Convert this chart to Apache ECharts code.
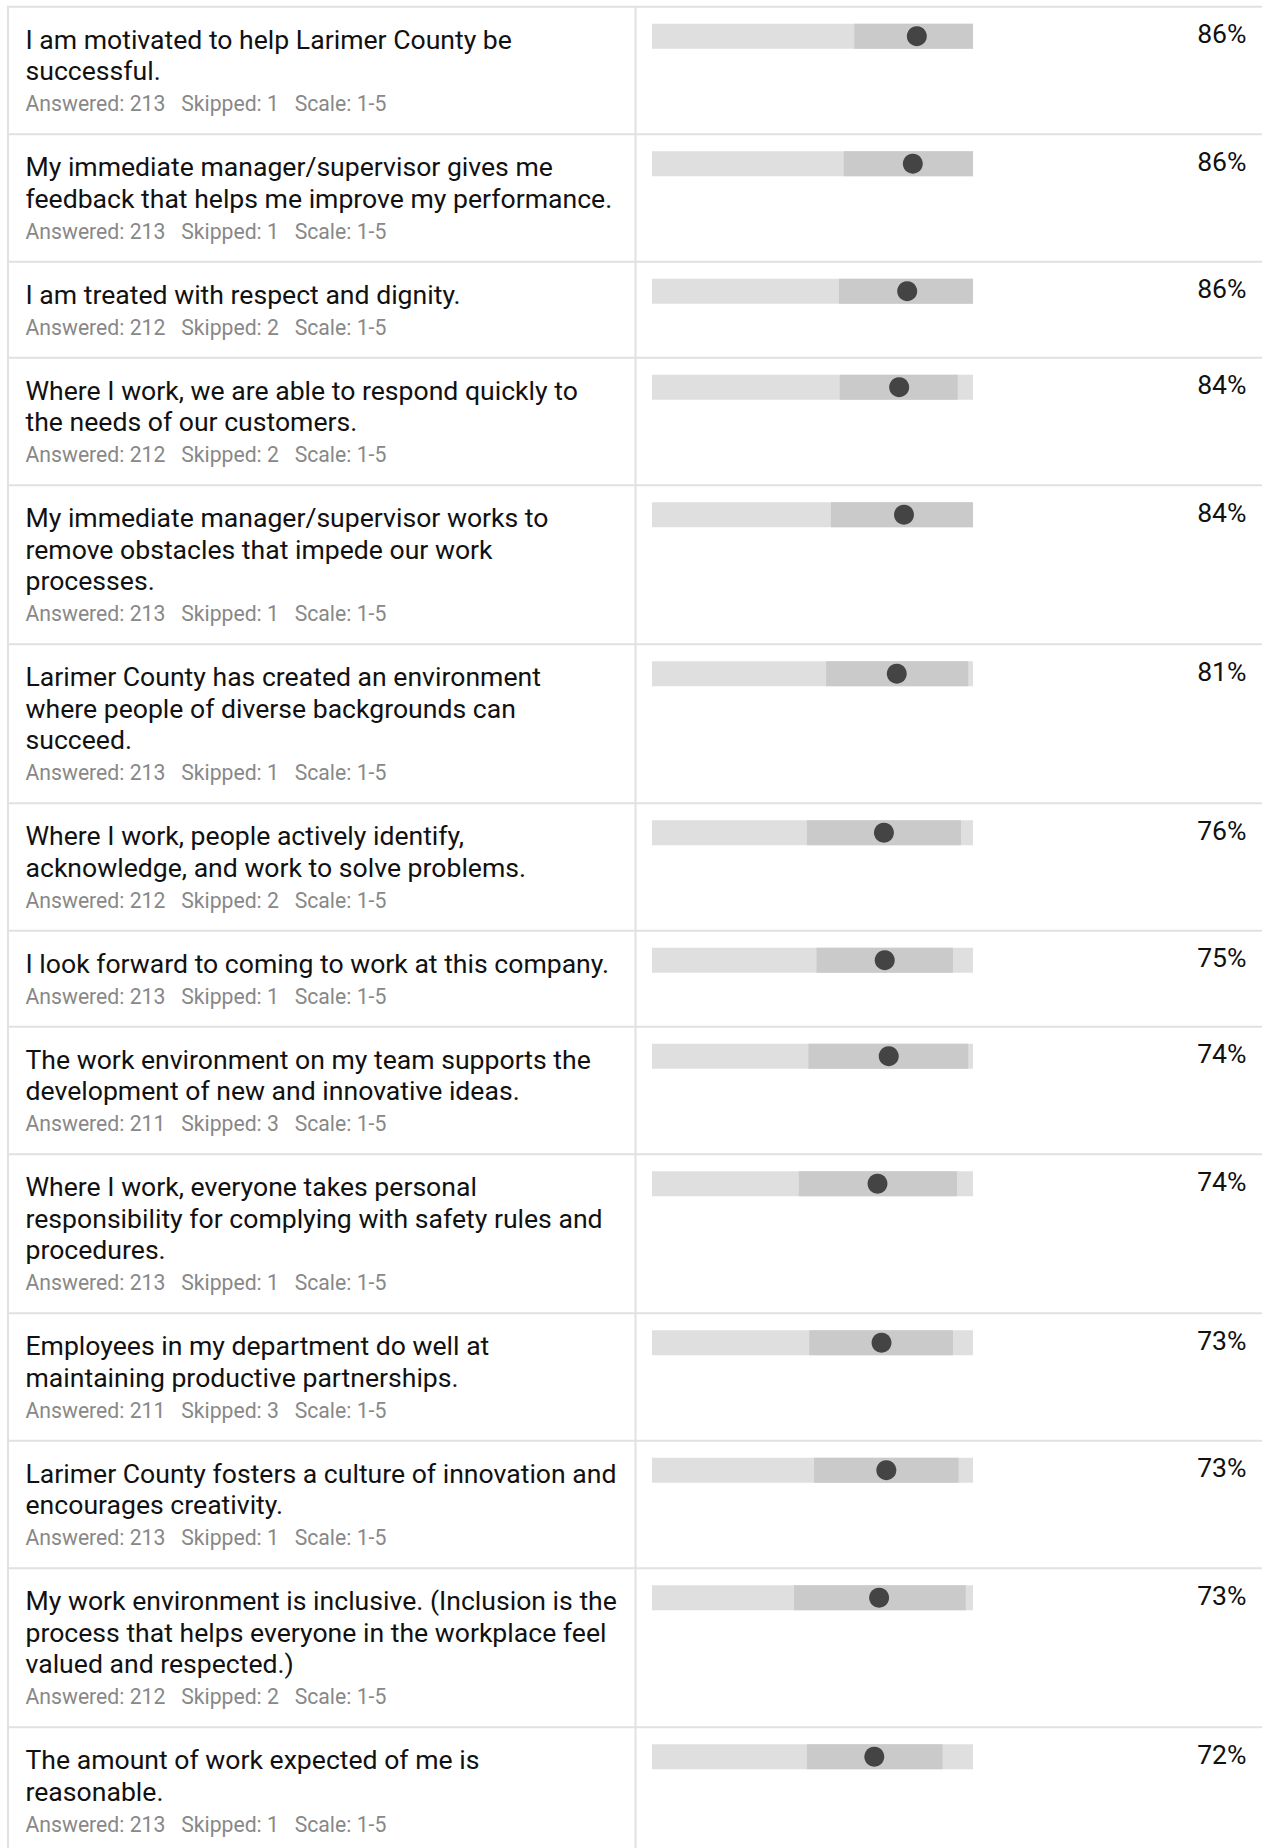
<!DOCTYPE html>
<html><head><meta charset="utf-8">
<script src="https://cdn.jsdelivr.net/npm/echarts@6/dist/echarts.min.js"></script>
<style>html,body{margin:0;padding:0;background:#fff}#c{width:1262px;height:1848px}</style>
</head><body><div id="c"></div>
<script>
// ---- data ----
const questions = [
  "I am motivated to help Larimer County be\nsuccessful.",
  "My immediate manager/supervisor gives me\nfeedback that helps me improve my performance.",
  "I am treated with respect and dignity.",
  "Where I work, we are able to respond quickly to\nthe needs of our customers.",
  "My immediate manager/supervisor works to\nremove obstacles that impede our work\nprocesses.",
  "Larimer County has created an environment\nwhere people of diverse backgrounds can\nsucceed.",
  "Where I work, people actively identify,\nacknowledge, and work to solve problems.",
  "I look forward to coming to work at this company.",
  "The work environment on my team supports the\ndevelopment of new and innovative ideas.",
  "Where I work, everyone takes personal\nresponsibility for complying with safety rules and\nprocedures.",
  "Employees in my department do well at\nmaintaining productive partnerships.",
  "Larimer County fosters a culture of innovation and\nencourages creativity.",
  "My work environment is inclusive. (Inclusion is the\nprocess that helps everyone in the workplace feel\nvalued and respected.)",
  "The amount of work expected of me is\nreasonable."
];
const answered = [213, 213, 212, 212, 213, 213, 212, 213, 211, 213, 211, 213, 212, 213];
const skipped  = [1, 1, 2, 2, 1, 1, 2, 1, 3, 1, 3, 1, 2, 1];
const scaleText = "1-5";
const percents = [86, 86, 86, 84, 84, 81, 76, 75, 74, 74, 73, 73, 73, 72];
const means = [4.30, 4.25, 4.18, 4.08, 4.14, 4.05, 3.89, 3.90, 3.95, 3.81, 3.86, 3.92, 3.83, 3.77];
const lows  = [3.52, 3.39, 3.33, 3.34, 3.23, 3.17, 2.93, 3.05, 2.95, 2.83, 2.96, 3.02, 2.77, 2.93];
const highs = [5.00, 5.00, 5.00, 4.81, 5.00, 4.94, 4.85, 4.75, 4.94, 4.80, 4.75, 4.82, 4.91, 4.62];
const scaleMin = 1, scaleMax = 5;

// ---- layout ----
const W = 1262, H = 1848;
const TOP0 = 6.7, LINE_H = 31.5, ROW_BASE = 64.5;
const LEFT_X = 8, DIV_X = 635.5, TEXT_X = 25.5;
const BAR_LEFT = 652, BAR_W = 321, BAR_OFF = 17, BAR_H = 25;
const FONT = "Roboto, 'Noto Sans', sans-serif";
const TITLE_SIZE = 26.6, META_SIZE = 21.2, PCT_SIZE = 26.6;
const LINE_COLOR = '#e1e1e1';

const chart = echarts.init(document.getElementById('c'), null, {renderer: 'svg', width: W, height: H});

const rows = [];
let yy = TOP0;
questions.forEach(q => {
  const n = q.split('\n').length;
  rows.push({top: yy, n: n});
  yy += ROW_BASE + LINE_H * n;
});

const grids = [], xAxes = [], yAxes = [], series = [], graphics = [];

// table lines
graphics.push({type: 'line', shape: {x1: LEFT_X, y1: TOP0, x2: LEFT_X, y2: H}, style: {stroke: LINE_COLOR, lineWidth: 2}, silent: true});
graphics.push({type: 'line', shape: {x1: DIV_X, y1: TOP0, x2: DIV_X, y2: H}, style: {stroke: LINE_COLOR, lineWidth: 2}, silent: true});

rows.forEach((r, i) => {
  graphics.push({type: 'line', shape: {x1: LEFT_X - 1, y1: r.top, x2: W, y2: r.top}, style: {stroke: LINE_COLOR, lineWidth: 2}, silent: true});

  grids.push({left: BAR_LEFT, width: BAR_W, top: r.top + BAR_OFF, height: BAR_H});
  xAxes.push({type: 'value', gridIndex: i, min: scaleMin, max: scaleMax, show: false, splitLine: {show: false}});
  yAxes.push({type: 'category', gridIndex: i, data: ['Q' + (i + 1)], show: false});

  series.push({type: 'bar', xAxisIndex: i, yAxisIndex: i, stack: 's' + i, data: [lows[i]], barWidth: BAR_H,
    itemStyle: {color: 'rgba(0,0,0,0)'}, showBackground: true, backgroundStyle: {color: '#dfdfdf'}, silent: true});
  series.push({type: 'bar', xAxisIndex: i, yAxisIndex: i, stack: 's' + i, data: [+(highs[i] - lows[i]).toFixed(2)], barWidth: BAR_H,
    itemStyle: {color: '#cacaca'}, silent: true});
  series.push({type: 'scatter', xAxisIndex: i, yAxisIndex: i, data: [[means[i], 0]], symbolSize: 20,
    itemStyle: {color: '#444444', opacity: 1}, silent: true, z: 5});

  // question text
  graphics.push({type: 'text', x: TEXT_X, y: r.top + 16.65, silent: true,
    style: {text: questions[i], fontSize: TITLE_SIZE, fontFamily: FONT, fill: '#111', lineHeight: LINE_H, verticalAlign: 'top', align: 'left'}});
  // meta line
  graphics.push({type: 'text', x: TEXT_X, y: r.top + 41.5 + LINE_H * r.n - 7.3, silent: true,
    style: {text: 'Answered: ' + answered[i] + '\u00a0\u00a0\u00a0Skipped: ' + skipped[i] + '\u00a0\u00a0\u00a0Scale: ' + scaleText,
      fontSize: META_SIZE, fontFamily: FONT, fill: '#888', verticalAlign: 'middle', align: 'left'}});
  // percent
  graphics.push({type: 'text', x: 1246.5, y: r.top + 27.2, silent: true,
    style: {text: percents[i] + '%', fontSize: PCT_SIZE, fontFamily: FONT, fill: '#111', verticalAlign: 'middle', align: 'right'}});
});

chart.setOption({
  animation: false,
  backgroundColor: '#fff',
  grid: grids,
  xAxis: xAxes,
  yAxis: yAxes,
  series: series,
  graphic: graphics
});
</script>
</body></html>
